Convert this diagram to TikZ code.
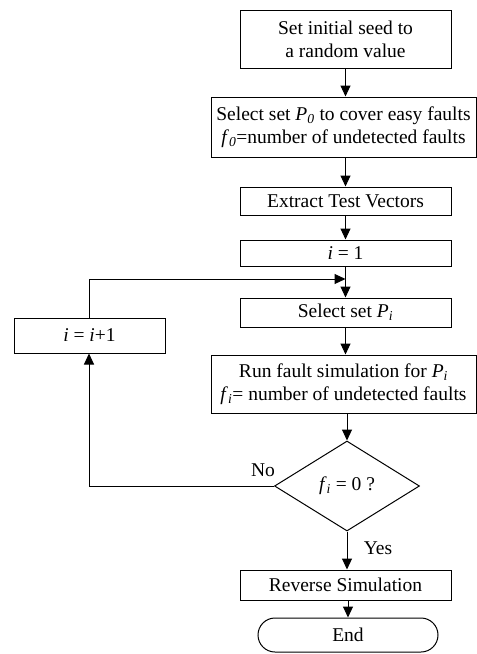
\documentclass[tikz,border=0pt]{standalone}
\usepackage{fontspec}
\setmainfont{Liberation Serif}
\usetikzlibrary{arrows.meta,shapes.geometric,shapes.misc}
\newcommand{\vi}{\textit{i}}
\begin{document}
\begin{tikzpicture}[x=1pt,y=-1pt,
  every node/.style={font=\fontsize{19.5}{23}\selectfont},
  box/.style={draw,line width=1pt,rectangle,inner sep=0pt,align=center,minimum width=211pt},
  wbox/.style={box,minimum width=265pt},
  dia/.style={draw,line width=1pt,diamond,inner sep=0pt,minimum width=145pt,minimum height=90pt},
  term/.style={draw,line width=1pt,rounded rectangle,inner sep=0pt,minimum width=180pt,minimum height=34pt},
  conn/.style={line width=1pt},
  arr/.style={conn,-{Triangle[length=11pt,width=10pt]}},
  lbl/.style={inner sep=0pt}]
\path[use as bounding box] (0,0) rectangle (477,654);
\node[box,minimum height=58pt] (b1) at (345.5,39) {Set initial seed to\\a random value};
\node[wbox,minimum height=60pt] (b2) at (343.5,127) {Select set \textit{P}\textsubscript{\textit{0}} to cover easy faults\\\textit{f}\textsubscript{\textit{0}}=number of undetected faults};
\node[box,minimum height=28pt] (b3) at (345.5,201) {Extract Test Vectors};
\node[box,minimum height=26pt] (b4) at (345.5,253) {\vi{} = 1};
\node[box,minimum height=29pt] (b5) at (345.5,312.5) {Select set \textit{P}\textsubscript{\textit{i}}};
\node[wbox,minimum height=58pt] (b6) at (343.5,384) {Run fault simulation for \textit{P}\textsubscript{\textit{i}}\\\textit{f}\textsubscript{\textit{i}}= number of undetected faults};
\node[dia] (d) at (347,486) {\textit{f}\textsubscript{\textit{i}} = 0 ?};
\node[box,minimum height=30pt] (b7) at (345.5,585) {Reverse Simulation};
\node[term] (e) at (348,635) {End};
\node[box,minimum width=151pt,minimum height=35pt] (inc) at (89.5,335.5) {\vi{} = \vi+1};
\node[lbl] (no) at (263,470) {No};
\node[lbl] (yes) at (378,548) {Yes};
\coordinate (j) at (345.5,279);
\coordinate (c1) at (89,486);
\coordinate (c2) at (89,279);
\draw[arr] (b1.south) -- (b1.south |- b2.north);
\draw[arr] (b2.south -| b1.south) -- (b3.north);
\draw[arr] (b3.south) -- (b4.north);
\draw[arr] (b4.south) -- (b5.north);
\draw[arr] (b5.south) -- (b5.south |- b6.north);
\draw[arr] (b6.south -| d.north) -- (d.north);
\draw[arr] (d.south) -- (d.south |- b7.north);
\draw[arr] (b7.south -| e.north) -- (e.north);
\draw[arr] (d.west) -- (c1) -- (inc.south -| c1);
\draw[arr] (inc.north -| c2) -- (c2) -- (j);
\end{tikzpicture}
\end{document}
